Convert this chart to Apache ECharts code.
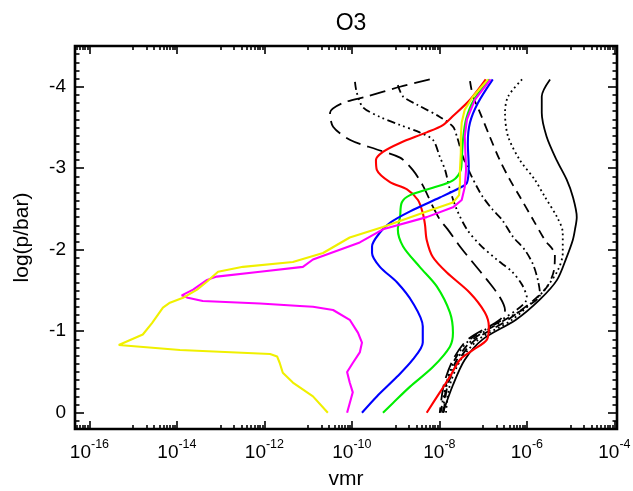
<!DOCTYPE html>
<html>
<head>
<meta charset="utf-8">
<script src="https://cdn.jsdelivr.net/npm/echarts@6/dist/echarts.min.js"></script>
<style>
  html, body { margin: 0; padding: 0; background: #fff; }
  #chart { width: 633px; height: 491px; }
</style>
</head>
<body>
<div id="chart"></div>
<script>
// O3 volume mixing ratio profiles: log10(vmr) against log10(p / bar)

// Black reference profiles
const solidLogP   = [-4.09,-3.88,-3.68,-3.39,-3.10,-2.86,-2.65,-2.40,-2.25,-2.12,-1.91,-1.63,-1.39,-1.14,-0.90,-0.65,-0.34,0];
const solidLogVmr = [-5.47,-5.66,-5.66,-5.55,-5.32,-5.09,-4.95,-4.86,-4.90,-4.95,-5.09,-5.31,-5.70,-6.25,-7.01,-7.42,-7.69,-7.92];

const dottedLogP   = [-4.09,-3.88,-3.68,-3.39,-3.10,-2.86,-2.65,-2.40,-2.21,-1.96,-1.75,-1.51,-1.39,-1.14,-0.90,-0.65,-0.34,0];
const dottedLogVmr = [-6.11,-6.43,-6.50,-6.43,-6.16,-5.82,-5.59,-5.31,-5.18,-5.18,-5.29,-5.59,-5.81,-6.34,-7.10,-7.51,-7.76,-7.85];

const dashedLogP   = [-4.07,-3.88,-3.68,-3.39,-3.10,-2.86,-2.65,-2.37,-2.12,-1.94,-1.75,-1.51,-1.14,-0.90,-0.65,-0.34,0];
const dashedLogVmr = [-7.30,-7.23,-7.07,-6.85,-6.62,-6.39,-6.16,-5.86,-5.59,-5.36,-5.38,-5.59,-6.43,-7.17,-7.55,-7.81,-7.90];

const dashDotLogP   = [-4.02,-3.88,-3.78,-3.63,-3.51,-3.39,-3.14,-2.94,-2.77,-2.65,-2.49,-2.37,-2.16,-2.00,-1.82,-1.63,-1.45,-1.30,-1.14,-0.90,-0.65,-0.34,0];
const dashDotLogVmr = [-8.95,-8.83,-8.51,-7.99,-7.69,-7.60,-7.46,-7.30,-7.14,-7.01,-6.78,-6.57,-6.32,-6.05,-5.86,-5.75,-5.70,-6.00,-6.50,-7.23,-7.60,-7.83,-7.92];

const dash3DotLogP   = [-4.06,-3.93,-3.75,-3.63,-3.53,-3.44,-3.35,-3.14,-2.98,-2.74,-2.49,-2.25,-2.06,-1.88,-1.73,-1.57,-1.41,-1.14,-0.90,-0.65,-0.34,0];
const dash3DotLogVmr = [-9.93,-9.89,-9.75,-9.36,-8.90,-8.45,-8.15,-7.99,-7.87,-7.76,-7.60,-7.37,-7.07,-6.69,-6.34,-6.11,-6.00,-6.57,-7.30,-7.65,-7.85,-7.97];

const longDashLogP   = [-4.09,-4.00,-3.88,-3.80,-3.68,-3.51,-3.35,-3.23,-3.13,-2.98,-2.79,-2.53,-2.37,-2.25,-2.04,-1.84,-1.63,-1.42,-1.26,-1.14,-0.90,-0.65,-0.34,0];
const longDashLogVmr = [-8.22,-8.90,-9.66,-10.21,-10.50,-10.43,-10.05,-9.43,-8.90,-8.61,-8.38,-8.15,-7.99,-7.81,-7.53,-7.23,-6.91,-6.62,-6.50,-6.62,-7.35,-7.69,-7.90,-7.99];

// Coloured profiles
const redLogP   = [-4.09,-3.84,-3.64,-3.53,-3.44,-3.31,-3.20,-3.10,-2.98,-2.83,-2.74,-2.61,-2.45,-2.31,-2.12,-1.91,-1.72,-1.47,-1.23,-1.06,-0.90,-0.77,-0.65,-0.44,-0.25,0];
const redLogVmr = [-6.94,-7.30,-7.69,-7.92,-8.29,-8.90,-9.29,-9.45,-9.43,-9.13,-8.74,-8.49,-8.38,-8.33,-8.29,-8.15,-7.83,-7.30,-6.96,-6.87,-6.91,-7.23,-7.53,-7.76,-7.99,-8.29];

const greenLogP   = [-4.09,-3.84,-3.60,-3.35,-3.10,-2.98,-2.85,-2.76,-2.67,-2.58,-2.40,-2.25,-2.04,-1.79,-1.55,-1.23,-0.98,-0.81,-0.56,-0.32,-0.12,0];
const greenLogVmr = [-6.85,-7.21,-7.39,-7.46,-7.49,-7.51,-7.69,-8.15,-8.67,-8.86,-8.90,-8.95,-8.83,-8.45,-8.06,-7.76,-7.69,-7.76,-8.15,-8.67,-9.06,-9.29];

const blueLogP   = [-4.09,-3.80,-3.56,-3.31,-3.02,-2.82,-2.76,-2.64,-2.47,-2.33,-2.21,-2.04,-1.96,-1.79,-1.60,-1.35,-1.06,-0.86,-0.65,-0.44,-0.20,0];
const blueLogVmr = [-6.78,-7.12,-7.30,-7.35,-7.33,-7.37,-7.53,-7.99,-8.67,-9.13,-9.36,-9.54,-9.54,-9.36,-8.97,-8.61,-8.38,-8.38,-8.61,-8.97,-9.43,-9.77];

const magentaLogP   = [-4.09,-3.84,-3.60,-3.39,-2.98,-2.77,-2.61,-2.52,-2.40,-2.25,-2.09,-1.88,-1.79,-1.73,-1.67,-1.63,-1.51,-1.44,-1.41,-1.37,-1.34,-1.31,-1.30,-1.26,-1.14,-0.98,-0.86,-0.74,-0.61,-0.50,-0.37,-0.25,0];
const magentaLogVmr = [-6.83,-7.19,-7.37,-7.42,-7.39,-7.42,-7.49,-7.69,-8.29,-9.29,-9.82,-10.89,-11.12,-12.10,-13.09,-13.31,-13.63,-13.89,-13.75,-13.41,-12.10,-11.19,-10.89,-10.43,-10.05,-9.86,-9.77,-9.82,-9.98,-10.11,-10.05,-9.98,-10.11];

const yellowLogP   = [-4.09,-3.88,-3.72,-3.56,-3.39,-3.19,-2.98,-2.82,-2.67,-2.58,-2.47,-2.28,-2.15,-1.96,-1.85,-1.79,-1.73,-1.61,-1.51,-1.41,-1.35,-1.29,-1.10,-0.96,-0.83,-0.77,-0.72,-0.69,-0.61,-0.49,-0.37,-0.20,0];
const yellowLogVmr = [-6.89,-7.23,-7.42,-7.49,-7.51,-7.51,-7.53,-7.53,-7.55,-7.69,-8.29,-9.29,-10.05,-10.66,-11.35,-12.49,-13.06,-13.31,-13.54,-13.86,-14.16,-14.32,-14.57,-14.78,-15.33,-13.93,-11.87,-11.71,-11.65,-11.58,-11.35,-10.89,-10.55];

// Axis ticks
const xMajorTicks = [-16, -14, -12, -10, -8, -6, -4];
const yMajorTicks = [0, -1, -2, -3, -4];

const X_MIN = -16.33, X_MAX = -3.94;
const Y_MIN = -4.5, Y_MAX = 0.2;
const FONT = '"Liberation Sans", Arial, sans-serif';

// log-axis style minor ticks: 10..90 x 10^m between labelled decades
const xMinorTicks = [];
for (let m = -18; m <= -4; m += 2) {
  for (let k = 1; k <= 9; k++) {
    const v = m + 1 + Math.log10(k);
    if (v > X_MIN && v < X_MAX) xMinorTicks.push(+v.toFixed(4));
  }
}
const yMinorTicks = [];
for (let i = -45; i <= 2; i++) {
  if (i % 10 !== 0) yMinorTicks.push(i / 10);
}

const zip = (xs, ys) => xs.map((x, i) => [x, ys[i]]);

const tickStyle = { color: '#000', width: 1.6 };
const plotBox = { left: 75, right: 16, top: 46, bottom: 62 };

// Four stacked grids share one box: data + labelled ticks, minor ticks,
// and the mirrored major / minor ticks on the opposite sides.
const grids = [0, 1, 2, 3].map(i => Object.assign({}, plotBox, {
  show: i === 0, borderColor: '#000', borderWidth: 2.6, backgroundColor: 'transparent',
  containLabel: false, outerBoundsMode: 'none'
}));

function xAxisDef(gridIndex, position, ticks, len, withLabels) {
  const ax = {
    type: 'value', gridIndex: gridIndex, position: position, min: X_MIN, max: X_MAX,
    axisLine: { show: false, onZero: false }, splitLine: { show: false },
    axisTick: { show: true, inside: true, length: len, customValues: ticks, lineStyle: tickStyle },
    axisLabel: { show: false }
  };
  if (withLabels) {
    ax.axisLabel = {
      show: true, customValues: xMajorTicks, margin: 9,
      formatter: v => '{m|10}{e|' + v + '}',
      rich: {
        m: { fontSize: 19, fontFamily: FONT, color: '#000', lineHeight: 24, verticalAlign: 'bottom' },
        e: { fontSize: 12.5, fontFamily: FONT, color: '#000', lineHeight: 24, verticalAlign: 'top' }
      }
    };
    ax.name = 'vmr';
    ax.nameLocation = 'middle';
    ax.nameGap = 40;
    ax.nameTextStyle = { fontSize: 21, fontFamily: FONT, color: '#000' };
  }
  return ax;
}

function yAxisDef(gridIndex, position, ticks, len, withLabels) {
  const ax = {
    type: 'value', gridIndex: gridIndex, position: position, inverse: true, min: Y_MIN, max: Y_MAX,
    axisLine: { show: false, onZero: false }, splitLine: { show: false },
    axisTick: { show: true, inside: true, length: len, customValues: ticks, lineStyle: tickStyle },
    axisLabel: { show: false }
  };
  if (withLabels) {
    ax.axisLabel = {
      show: true, customValues: yMajorTicks, margin: 9,
      formatter: v => String(v),
      fontSize: 19, fontFamily: FONT, color: '#000'
    };
    ax.name = 'log(p/bar)';
    ax.nameLocation = 'middle';
    ax.nameGap = 42;
    ax.nameTextStyle = { fontSize: 21, fontFamily: FONT, color: '#000' };
  }
  return ax;
}

function profile(name, xs, ys, color, width, dash, smooth) {
  return {
    name: name, type: 'line', xAxisIndex: 0, yAxisIndex: 0,
    data: zip(xs, ys), showSymbol: false, symbol: 'none', smooth: smooth,
    clip: true, animation: false,
    lineStyle: { color: color, width: width, type: dash, cap: 'butt' }
  };
}

const chart = echarts.init(document.getElementById('chart'), null, { renderer: 'canvas' });
chart.setOption({
  animation: false,
  backgroundColor: '#fff',
  title: {
    text: 'O3', left: 346, top: 7, textAlign: 'center',
    textStyle: { fontSize: 23, fontWeight: 'normal', fontFamily: FONT, color: '#000' }
  },
  grid: grids,
  xAxis: [
    xAxisDef(0, 'bottom', xMajorTicks, 8, true),
    xAxisDef(1, 'bottom', xMinorTicks, 4, false),
    xAxisDef(2, 'top', xMajorTicks, 8, false),
    xAxisDef(3, 'top', xMinorTicks, 4, false)
  ],
  yAxis: [
    yAxisDef(0, 'left', yMajorTicks, 9, true),
    yAxisDef(1, 'left', yMinorTicks, 4.5, false),
    yAxisDef(2, 'right', yMajorTicks, 9, false),
    yAxisDef(3, 'right', yMinorTicks, 4.5, false)
  ],
  series: [
    profile('solid', solidLogVmr, solidLogP, '#000', 1.8, 'solid', 0.3),
    profile('dotted', dottedLogVmr, dottedLogP, '#000', 1.8, [1.8, 3.2], 0.3),
    profile('dashed', dashedLogVmr, dashedLogP, '#000', 1.8, [9, 6], 0.3),
    profile('dash-dot', dashDotLogVmr, dashDotLogP, '#000', 1.8, [8, 3.5, 1.8, 3.5], 0.3),
    profile('dash-dot-dot-dot', dash3DotLogVmr, dash3DotLogP, '#000', 1.8, [8, 3.5, 1.8, 3.5, 1.8, 3.5, 1.8, 3.5], 0.3),
    profile('long-dash', longDashLogVmr, longDashLogP, '#000', 1.8, [16, 7], 0.3),
    profile('red', redLogVmr, redLogP, '#ff0000', 2.1, 'solid', 0.3),
    profile('green', greenLogVmr, greenLogP, '#00ee00', 2.1, 'solid', 0.3),
    profile('blue', blueLogVmr, blueLogP, '#0000ff', 2.1, 'solid', 0.3),
    profile('magenta', magentaLogVmr, magentaLogP, '#ff00ff', 2.1, 'solid', false),
    profile('yellow', yellowLogVmr, yellowLogP, '#f0f000', 2.1, 'solid', false)
  ]
});
</script>
</body>
</html>
